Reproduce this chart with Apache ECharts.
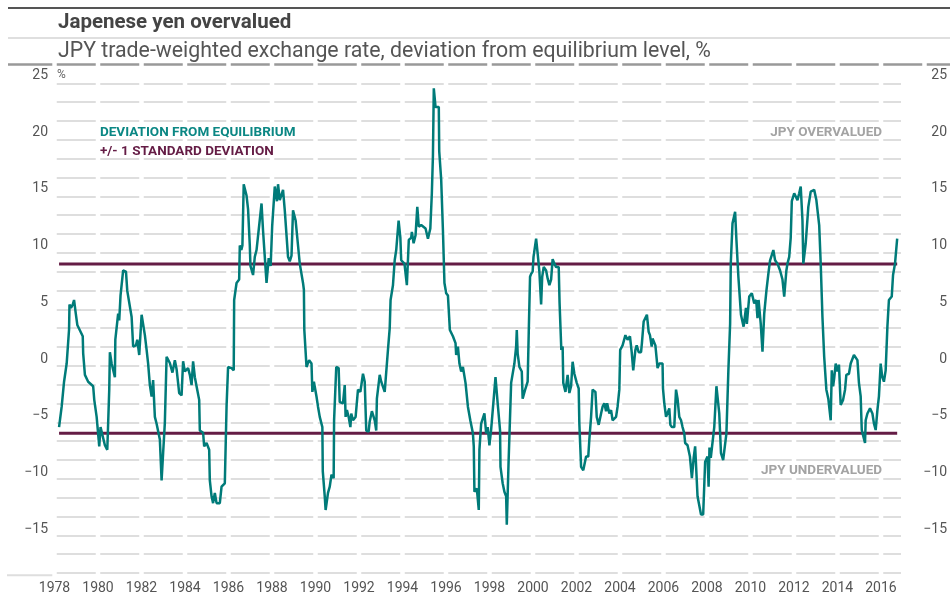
<!DOCTYPE html>
<html><head><meta charset="utf-8">
<script src="https://cdn.jsdelivr.net/npm/echarts@6/dist/echarts.min.js"></script>
<style>html,body{margin:0;padding:0;background:#fff}#c{width:950px;height:595px}</style>
</head><body><div id="c"></div>
<script>
const xTickYears = [1978,1980,1982,1984,1986,1988,1990,1992,1994,1996,1998,2000,2002,2004,2006,2008,2010,2012,2014,2016];
const yTickValues = [25,20,15,10,5,0,-5,-10,-15];
const stdBand = [-6.55, 8.37];
const years = [
1978.21,1978.33,1978.44,1978.56,1978.67,1978.69,1978.76,1978.84,1978.90,1978.96,1978.98,1979.05,1979.30,1979.32,1979.40,1979.55,1979.78,1979.83,1979.94,
1980.06,1980.12,1980.22,1980.32,1980.43,1980.52,1980.55,1980.63,1980.78,1980.80,1980.93,1980.98,1981.04,1981.16,1981.29,1981.35,1981.55,1981.62,1981.75,1981.81,1981.90,
1982.01,1982.16,1982.24,1982.31,1982.39,1982.47,1982.54,1982.62,1982.70,1982.85,1982.93,1983.00,1983.08,1983.16,1983.31,1983.43,1983.54,1983.62,1983.74,1983.85,1983.92,
1984.00,1984.15,1984.23,1984.31,1984.38,1984.46,1984.57,1984.66,1984.69,1984.84,1984.89,1985.00,1985.12,1985.15,1985.23,1985.30,1985.38,1985.46,1985.61,1985.69,1985.84,1985.92,1985.99,
1986.15,1986.25,1986.27,1986.38,1986.50,1986.53,1986.60,1986.65,1986.71,1986.84,1986.91,1986.99,1987.02,1987.14,1987.22,1987.30,1987.37,1987.53,1987.60,1987.68,1987.76,1987.86,1987.95,
1988.02,1988.14,1988.24,1988.29,1988.37,1988.52,1988.60,1988.75,1988.83,1988.91,1988.98,1989.10,1989.21,1989.29,1989.44,1989.48,1989.50,1989.60,1989.72,1989.83,1989.87,1989.94,
1990.06,1990.13,1990.21,1990.33,1990.35,1990.44,1990.48,1990.59,1990.67,1990.75,1990.85,1990.87,1990.97,1991.08,1991.13,1991.28,1991.36,1991.40,1991.46,1991.55,1991.62,1991.66,1991.74,1991.86,1991.97,
1992.08,1992.20,1992.28,1992.35,1992.46,1992.51,1992.61,1992.74,1992.81,1992.84,1992.97,1993.04,1993.20,1993.35,1993.43,1993.47,1993.58,1993.66,1993.73,1993.84,1993.92,1993.96,
1994.11,1994.22,1994.31,1994.42,1994.45,1994.53,1994.62,1994.70,1994.77,1994.88,1994.96,1995.08,1995.19,1995.30,1995.37,1995.42,1995.46,1995.54,1995.69,1995.71,1995.80,1995.88,1995.95,
1996.03,1996.11,1996.18,1996.20,1996.34,1996.46,1996.49,1996.57,1996.64,1996.72,1996.80,1996.92,1997.03,1997.14,1997.26,1997.30,1997.33,1997.44,1997.53,1997.56,1997.64,1997.79,1997.87,1997.94,
1998.02,1998.10,1998.17,1998.30,1998.40,1998.51,1998.53,1998.63,1998.71,1998.79,1998.82,1998.90,1999.02,1999.17,1999.25,1999.28,1999.32,1999.40,1999.51,1999.55,1999.68,1999.78,1999.83,1999.89,1999.94,
2000.01,2000.05,2000.17,2000.24,2000.32,2000.40,2000.45,2000.52,2000.63,2000.70,2000.78,2000.86,2000.93,2001.01,2001.09,2001.21,2001.25,2001.29,2001.33,2001.39,2001.42,2001.52,2001.62,2001.70,2001.78,2001.85,2001.93,
2002.04,2002.13,2002.16,2002.24,2002.34,2002.42,2002.47,2002.57,2002.62,2002.70,2002.77,2002.90,2002.96,2003.05,2003.16,2003.23,2003.31,2003.39,2003.44,2003.54,2003.62,2003.69,2003.85,2003.92,
2004.00,2004.04,2004.15,2004.28,2004.38,2004.49,2004.57,2004.64,2004.74,2004.80,2004.89,2005.00,2005.04,2005.12,2005.27,2005.35,2005.41,2005.49,2005.53,2005.66,2005.76,2005.84,2005.99,
2006.01,2006.07,2006.15,2006.22,2006.30,2006.35,2006.42,2006.53,2006.61,2006.68,2006.76,2006.84,2006.91,2006.99,2007.03,2007.14,2007.25,2007.34,2007.42,2007.49,2007.60,2007.76,2007.86,2007.95,
2008.06,2008.11,2008.15,2008.21,2008.27,2008.37,2008.47,2008.60,2008.68,2008.78,2008.87,2008.93,2009.02,2009.10,2009.13,2009.21,2009.33,2009.39,2009.48,2009.60,2009.72,2009.83,2009.87,2009.98,
2010.10,2010.21,2010.30,2010.36,2010.41,2010.51,2010.59,2010.67,2010.77,2010.86,2010.94,2011.09,2011.17,2011.28,2011.40,2011.51,2011.59,2011.69,2011.74,2011.82,2011.89,2011.94,
2012.05,2012.09,2012.20,2012.28,2012.35,2012.43,2012.47,2012.58,2012.70,2012.81,2012.97,2013.07,2013.20,2013.27,2013.35,2013.43,2013.53,2013.62,2013.73,2013.78,2013.84,2013.89,2013.96,
2014.04,2014.11,2014.19,2014.30,2014.39,2014.45,2014.57,2014.65,2014.73,2014.80,2014.88,2014.96,2015.03,2015.11,2015.16,2015.23,2015.31,2015.34,2015.42,2015.54,2015.65,2015.72,2015.80,2015.88,2015.95,
2016.03,2016.10,2016.18,2016.26,2016.34,2016.41,2016.54,2016.60,2016.69,2016.79
];
const deviation = [
-6.0,-4.2,-2.0,-0.4,2.6,4.8,4.5,4.8,5.2,5.35,4.0,3.0,2.0,0.5,-1.4,-2.0,-2.4,-3.6,-5.1,
-7.7,-6.0,-6.8,-7.6,-8.0,-2.7,0.6,-0.4,-1.6,1.7,4.0,3.4,5.6,7.8,7.7,6.0,3.7,1.1,1.2,1.7,0.35,
3.9,2.1,0.8,-0.4,-2.3,-3.3,-1.85,-5.1,-5.7,-7.1,-10.7,-8.3,-5.6,0.2,-0.35,-1.2,-0.1,-0.9,-3.0,-3.2,-0.2,
-1.1,-0.8,-1.4,-2.3,-0.2,-1.6,-2.7,-3.6,-6.3,-6.5,-7.7,-7.4,-8.0,-10.7,-12.1,-12.7,-11.8,-12.7,-12.7,-11.25,-10.95,-4.2,-0.7,
-0.8,-1.0,5.2,6.7,7.0,10.0,9.6,10.0,15.4,14.4,13.2,10.0,8.2,7.4,9.0,9.6,9.6,13.7,11.3,9.0,6.7,8.9,8.2,
11.7,15.2,13.9,15.4,14.0,14.9,13.1,9.0,8.6,9.1,13.1,12.2,10.0,8.4,6.7,6.1,2.55,-0.7,-0.1,-0.4,-2.9,-2.0,
-3.3,-4.2,-5.1,-6.0,-9.9,-12.1,-13.3,-11.8,-11.25,-10.2,-10.5,-5.4,-0.7,-0.8,-3.8,-3.9,-2.3,-5.1,-4.5,-5.2,-6.0,-4.8,-5.4,-5.1,-2.7,
-2.9,-1.3,-2.0,-6.3,-6.4,-5.5,-4.6,-5.4,-6.3,-3.5,-1.4,-2.0,-2.9,0.8,2.7,5.2,6.5,8.7,9.6,12.2,10.7,8.7,
8.4,6.5,10.5,10.7,11.2,10.2,10.9,13.4,11.65,11.8,11.65,11.5,10.6,11.5,14.6,17.9,23.85,22.2,22.2,18.3,15.8,11.35,6.7,
5.8,5.6,5.5,2.55,2.0,1.4,0.35,1.1,-0.4,-1.1,-0.7,-2.1,-4.2,-5.4,-6.55,-7.7,-11.7,-11.4,-13.3,-8.0,-5.7,-4.8,-6.55,-6.0,
-7.6,-6.2,-6.3,-1.6,-3.9,-6.3,-9.5,-10.95,-11.7,-12.1,-14.6,-9.2,-2.1,-0.4,1.1,2.55,0.5,-0.7,-1.1,-3.5,-2.6,-2.0,2.3,7.25,7.5,
7.7,9.0,10.6,9.3,7.7,4.8,7.25,8.1,7.8,7.1,6.5,7.0,8.8,8.4,8.1,8.1,4.9,2.85,0.8,1.1,-2.1,-2.9,-1.4,-3.0,-2.4,-0.24,-1.3,
-2.1,-2.6,-5.7,-9.5,-9.8,-9.9,-8.6,-8.6,-7.1,-5.1,-2.7,-2.9,-5.1,-5.8,-4.8,-4.2,-3.9,-4.6,-3.9,-4.8,-4.5,-5.4,-5.1,-4.2,
-2.7,0.8,1.2,2.1,1.7,2.0,0.6,-1.0,0.8,1.2,0.6,0.6,1.4,3.3,3.9,2.4,2.1,1.1,1.8,1.2,-0.8,-0.4,-0.4,
-2.6,-3.9,-5.1,-5.2,-4.35,-5.8,-6.0,-6.0,-2.7,-3.5,-5.1,-5.4,-6.0,-6.55,-7.4,-7.6,-8.6,-10.5,-8.75,-7.7,-12.1,-13.7,-13.7,-9.05,
-8.6,-11.25,-7.8,-8.7,-8.7,-6.0,-2.4,-4.8,-8.3,-8.9,-8.9,-6.55,-1.0,3.1,8.4,11.95,12.97,10.5,7.25,3.9,2.85,4.5,3.1,5.5,
5.8,4.9,5.2,3.6,5.2,3.1,0.64,4.0,6.0,7.5,8.7,9.6,8.7,8.4,7.8,7.0,5.5,7.8,8.4,9.0,10.7,13.9,
14.6,14.75,14.0,14.6,15.2,12.2,8.4,10.2,13.4,14.75,14.9,14.0,11.8,8.4,3.7,0.2,-2.7,-3.5,-5.4,-1.0,-2.4,-1.7,-0.4,
-1.1,-0.5,-4.05,-3.6,-2.7,-1.4,-1.3,-0.4,-0.24,0.35,0.3,-0.1,-2.1,-3.3,-6.26,-6.8,-7.4,-5.4,-4.8,-4.35,-4.8,-5.67,-6.26,-4.5,-3.3,
-0.4,-1.56,-2.0,-1.0,2.85,5.2,5.5,7.4,8.4,10.6
];

const FONT = 'Roboto, "Noto Sans", sans-serif';
const TEAL = '#007b79';
const PLUM = '#641c45';
const RULE = '#dedede';
const L = 54.5, R = 49;
const dashStyle = { color: RULE, width: 2, type: [39, 4.5], dashOffset: 41.25 };

const devData = years.map((y, i) => [y, deviation[i]]);
const span = [years[0], years[years.length - 1]];
const fmtY = v => (yTickValues.indexOf(v) >= 0 ? (v < 0 ? '\u2212' + (-v) : String(v)) : '');

const chart = echarts.init(document.getElementById('c'), null, { renderer: 'canvas' });
chart.setOption({
  animation: false,
  backgroundColor: '#fff',
  grid: [
    { left: L, right: R, top: 75.25, bottom: 65.75 },
    { left: L, right: R, top: 83.3, bottom: 19.8 }
  ],
  xAxis: [
    { type: 'value', gridIndex: 0, min: 1978, max: 2016.92, interval: 2,
      axisLine: { show: false }, axisTick: { show: false }, axisLabel: { show: false }, splitLine: { show: false } },
    { type: 'value', gridIndex: 1, min: 1978, max: 2016.92, interval: 2,
      axisLine: { show: false }, axisTick: { show: false }, splitLine: { show: false },
      axisLabel: { margin: 8, color: '#555', fontFamily: FONT, fontSize: 14,
        formatter: v => (xTickYears.indexOf(v) >= 0 ? String(v) : '') } }
  ],
  yAxis: [
    { type: 'value', gridIndex: 0, position: 'left', min: -15, max: 25, interval: 5,
      axisLine: { show: false }, axisTick: { show: false }, splitLine: { show: false },
      axisLabel: { margin: 6.5, color: '#555', fontFamily: FONT, fontSize: 14, formatter: fmtY } },
    { type: 'value', gridIndex: 0, position: 'right', min: -15, max: 25, interval: 5,
      axisLine: { show: false }, axisTick: { show: false }, splitLine: { show: false },
      axisLabel: { margin: 47, align: 'right', color: '#555', fontFamily: FONT, fontSize: 14, formatter: fmtY } },
    { type: 'value', gridIndex: 1, min: 0, max: 26, interval: 1,
      axisLine: { show: false }, axisTick: { show: false }, axisLabel: { show: false },
      splitLine: { show: true, lineStyle: dashStyle } }
  ],
  series: [
    { type: 'line', xAxisIndex: 0, yAxisIndex: 0, data: span.map(x => [x, stdBand[1]]),
      symbol: 'none', silent: true, lineStyle: { color: PLUM, width: 3 }, z: 3 },
    { type: 'line', xAxisIndex: 0, yAxisIndex: 0, data: span.map(x => [x, stdBand[0]]),
      symbol: 'none', silent: true, lineStyle: { color: PLUM, width: 3 }, z: 3 },
    { type: 'line', xAxisIndex: 0, yAxisIndex: 0, data: devData,
      symbol: 'none', silent: true, lineStyle: { color: TEAL, width: 2.5 }, z: 4 }
  ],
  graphic: [
    { type: 'line', shape: { x1: 8, y1: 8, x2: 950, y2: 8 }, style: { stroke: '#555', lineWidth: 2 } },
    { type: 'line', shape: { x1: 8, y1: 38, x2: 950, y2: 38 }, style: { stroke: '#d4d4d4', lineWidth: 1.5 } },
    { type: 'line', shape: { x1: 8, y1: 64.4, x2: 52.3, y2: 64.4 }, style: { stroke: '#999', lineWidth: 2.5 } },
    { type: 'line', shape: { x1: L, y1: 64.4, x2: 950, y2: 64.4 }, style: { stroke: '#999', lineWidth: 2.5, lineDash: [39, 4.5], lineDashOffset: 41.25 } },
    { type: 'line', shape: { x1: 7, y1: 575.2, x2: 52.3, y2: 575.2 }, style: { stroke: RULE, lineWidth: 2 } },
    { type: 'text', left: 58, top: 12.5, style: { text: 'Japenese yen overvalued', font: 'bold 20.5px ' + FONT, fill: '#444' } },
    { type: 'text', left: 58, top: 41.5, style: { text: 'JPY trade-weighted exchange rate, deviation from equilibrium level, %', font: '21.3px ' + FONT, fill: '#555' } },
    { type: 'text', left: 57, top: 69, style: { text: '%', font: '12px ' + FONT, fill: '#666' } },
    { type: 'text', left: 100, top: 126, style: { text: 'DEVIATION FROM EQUILIBRIUM', font: 'bold 13.5px ' + FONT, fill: '#0b8784' } },
    { type: 'text', left: 100, top: 144.5, style: { text: '+/- 1 STANDARD DEVIATION', font: 'bold 13.5px ' + FONT, fill: PLUM } },
    { type: 'text', right: 68, top: 126, style: { text: 'JPY OVERVALUED', font: 'bold 13.5px ' + FONT, fill: '#a3a3a3' } },
    { type: 'text', right: 68, top: 464, style: { text: 'JPY UNDERVALUED', font: 'bold 13.5px ' + FONT, fill: '#a3a3a3' } }
  ]
});
</script></body></html>
